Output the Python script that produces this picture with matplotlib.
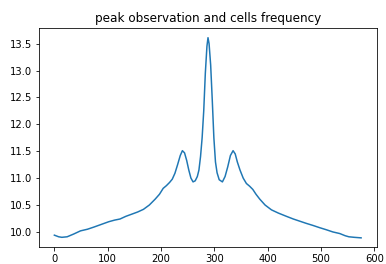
import matplotlib
matplotlib.use("Agg")
import matplotlib.pyplot as plt

# values
cells = [0, 8, 14, 24, 36, 49, 62, 74, 88, 102, 113, 123, 134, 145, 156, 167,
         178, 189, 197, 204, 210, 216, 221, 226, 231, 236, 240, 244, 248, 252,
         256, 260, 264, 268, 271, 274, 277, 280, 283, 286, 288, 290, 293, 296,
         299, 302, 305, 309, 315, 320, 325, 330, 335, 339, 343, 348, 354, 360,
         366, 372, 378, 385, 395, 407, 420, 435, 448, 460, 472, 485, 497, 510,
         522, 535, 545, 552, 562, 575]
peak = [9.94, 9.91, 9.90, 9.91, 9.96, 10.02, 10.05, 10.09, 10.14, 10.19,
        10.22, 10.24, 10.29, 10.33, 10.37, 10.42, 10.50, 10.61, 10.70, 10.81,
        10.86, 10.92, 10.98, 11.09, 11.25, 11.42, 11.51, 11.47, 11.33, 11.15,
        11.00, 10.93, 10.95, 11.03, 11.15, 11.40, 11.75, 12.25, 12.95, 13.45,
        13.61, 13.50, 13.10, 12.45, 11.75, 11.30, 11.10, 10.97, 10.93, 11.03,
        11.21, 11.42, 11.51, 11.45, 11.30, 11.15, 11.00, 10.90, 10.85, 10.79,
        10.70, 10.61, 10.50, 10.41, 10.35, 10.29, 10.24, 10.20, 10.16, 10.12,
        10.08, 10.04, 10.00, 9.97, 9.93, 9.91, 9.90, 9.89]

fig = plt.figure(figsize=(386 / 72, 264 / 72), dpi=72)
ax = fig.add_axes([39 / 386, 1 - 247 / 264, 338 / 386, 219 / 264])
ax.plot(cells, peak, color="tab:blue", linewidth=1.5)
ax.set_title("peak observation and cells frequency")
ax.set_xlim(-28.8, 604.8)
ax.set_ylim(9.72, 13.79)
ax.set_xticks([0, 100, 200, 300, 400, 500, 600])
ax.set_yticks([10.0, 10.5, 11.0, 11.5, 12.0, 12.5, 13.0, 13.5])
ax.tick_params(labelsize=10)
fig.savefig("out.png", dpi=72)
